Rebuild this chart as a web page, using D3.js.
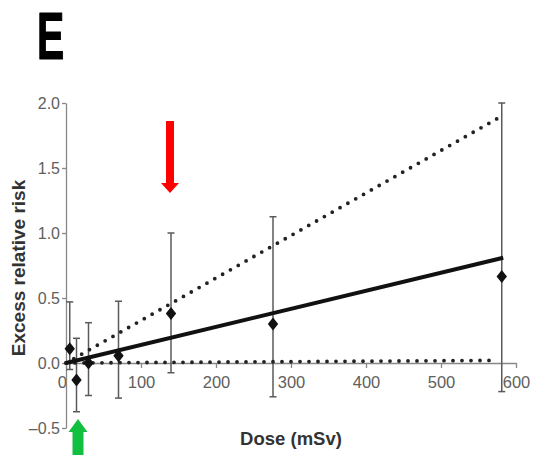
<!DOCTYPE html>
<html>
<head>
<meta charset="utf-8">
<script src="https://cdn.jsdelivr.net/npm/d3@7"></script>
<style>
  body { margin: 0; background: #fff; }
  svg { display: block; font-family: "Liberation Sans", Arial, sans-serif; }
</style>
</head>
<body>
<script>
// data
var doses = [5, 14, 30, 70, 140, 276, 581];
var risks = [0.11, -0.13, 0.0, 0.055, 0.38, 0.30, 0.665];
var lowerCI = [-0.05, -0.375, -0.25, -0.27, -0.075, -0.26, -0.22];
var upperCI = [0.47, 0.19, 0.31, 0.475, 1.0, 1.125, 2.0];

// fitted line and its confidence band (dose, err)
var fitDose = [0, 583];
var fitRisk = [0, 0.81];
var bandDose = [0, 575];
var bandUpper = [0, 1.88];
var bandLower = [0, 0.02];

var xTicks = [0, 100, 200, 300, 400, 500, 600];
var yTicks = [-0.5, 0.0, 0.5, 1.0, 1.5, 2.0];

// arrows (dose they point at)
var redArrowDose = 140;
var greenArrowDose = 14;

var width = 535, height = 455;

var svg = d3.select("body").append("svg")
    .attr("width", width)
    .attr("height", height);

var x = d3.scaleLinear().domain([0, 600]).range([66, 516]);
var y = d3.scaleLinear().domain([-0.5, 2.0]).range([428, 103]);

// panel letter
svg.append("text")
    .attr("transform", "translate(37,59) scale(0.62,1)")
    .attr("font-size", 66)
    .attr("font-weight", "bold")
    .attr("fill", "#000")
    .attr("stroke", "#000")
    .attr("stroke-width", 1.2)
    .attr("stroke-linejoin", "round")
    .text("E");

// x axis at zero
var xAxis = svg.append("g")
    .attr("transform", "translate(0," + y(0) + ")")
    .call(d3.axisBottom(x).tickValues(xTicks).tickSize(5).tickSizeOuter(0).tickFormat(d3.format("d")));
xAxis.select(".domain").attr("stroke", "#888").attr("stroke-width", 1.3);
xAxis.selectAll(".tick line").attr("stroke", "#888").attr("stroke-width", 1.3);
xAxis.selectAll(".tick text")
    .attr("font-size", 16.5)
    .attr("fill", "#606060")
    .attr("dy", "1.05em");
xAxis.selectAll(".tick text").filter(function(d) { return d === 0; }).attr("dx", "-0.25em");

// y axis
var yAxis = svg.append("g")
    .attr("transform", "translate(" + x(0) + ",0)")
    .call(d3.axisLeft(y).tickValues(yTicks).tickSize(4).tickSizeOuter(0).tickFormat(d3.format(".1f")));
yAxis.select(".domain").attr("stroke", "#888").attr("stroke-width", 1.3);
yAxis.selectAll(".tick line").attr("stroke", "#888").attr("stroke-width", 1.3);
yAxis.selectAll(".tick text")
    .attr("font-size", 16)
    .attr("fill", "#606060")
    .attr("x", -6)
    .text(function(d) { return d < 0 ? "\u2013" + Math.abs(d).toFixed(1) : d.toFixed(1); });

// axis titles
svg.append("text")
    .attr("transform", "translate(25,268) rotate(-90)")
    .attr("text-anchor", "middle")
    .attr("font-size", 19)
    .attr("font-weight", "bold")
    .attr("fill", "#333")
    .text("Excess relative risk");

svg.append("text")
    .attr("x", 291)
    .attr("y", 445)
    .attr("text-anchor", "middle")
    .attr("font-size", 18.5)
    .attr("font-weight", "bold")
    .attr("fill", "#333")
    .text("Dose (mSv)");

// error bars
var pts = doses.map(function(d, i) {
    return { dose: d, risk: risks[i], lo: lowerCI[i], hi: upperCI[i] };
});

var bars = svg.append("g").selectAll("g")
    .data(pts)
    .enter().append("g")
    .attr("stroke", "#5a5a5a")
    .attr("stroke-width", 1.5);

bars.append("line")
    .attr("x1", function(d) { return x(d.dose); })
    .attr("x2", function(d) { return x(d.dose); })
    .attr("y1", function(d) { return y(d.lo); })
    .attr("y2", function(d) { return y(d.hi); });

bars.selectAll(".cap")
    .data(function(d) { return [{ dose: d.dose, v: d.lo }, { dose: d.dose, v: d.hi }]; })
    .enter().append("line")
    .attr("class", "cap")
    .attr("x1", function(d) { return x(d.dose) - 3.5; })
    .attr("x2", function(d) { return x(d.dose) + 3.5; })
    .attr("y1", function(d) { return y(d.v); })
    .attr("y2", function(d) { return y(d.v); });

// confidence band lines (dotted)
var dotted = [bandUpper, bandLower];
svg.append("g").selectAll("line")
    .data(dotted)
    .enter().append("line")
    .attr("x1", x(bandDose[0]))
    .attr("x2", x(bandDose[1]))
    .attr("y1", function(d) { return y(d[0]); })
    .attr("y2", function(d) { return y(d[1]); })
    .attr("stroke", "#222")
    .attr("stroke-width", 3.8)
    .attr("stroke-linecap", "round")
    .attr("stroke-dasharray", "0 9");

// fitted line
svg.append("line")
    .attr("x1", x(fitDose[0]))
    .attr("x2", x(fitDose[1]))
    .attr("y1", y(fitRisk[0]))
    .attr("y2", y(fitRisk[1]))
    .attr("stroke", "#111")
    .attr("stroke-width", 4);

// diamonds
svg.append("g").selectAll("path")
    .data(pts)
    .enter().append("path")
    .attr("d", "M0,-6.5L5.2,0L0,6.5L-5.2,0Z")
    .attr("transform", function(d) { return "translate(" + x(d.dose) + "," + y(d.risk) + ")"; })
    .attr("fill", "#111");

// red arrow pointing down
var rx = x(redArrowDose) - 1;
svg.append("path")
    .attr("d", "M" + (rx - 4) + ",121 L" + (rx + 4) + ",121 L" + (rx + 4) + ",183 L" + (rx + 9) + ",183 L" + rx + ",193 L" + (rx - 9) + ",183 L" + (rx - 4) + ",183 Z")
    .attr("fill", "#ff0000");

// green arrow pointing up
var gx = x(greenArrowDose) + 1.5;
svg.append("path")
    .attr("d", "M" + gx + ",419 L" + (gx + 9.5) + ",432 L" + (gx + 5.5) + ",432 L" + (gx + 5.5) + ",455 L" + (gx - 5.5) + ",455 L" + (gx - 5.5) + ",432 L" + (gx - 9.5) + ",432 Z")
    .attr("fill", "#12c040");
</script>
</body>
</html>
